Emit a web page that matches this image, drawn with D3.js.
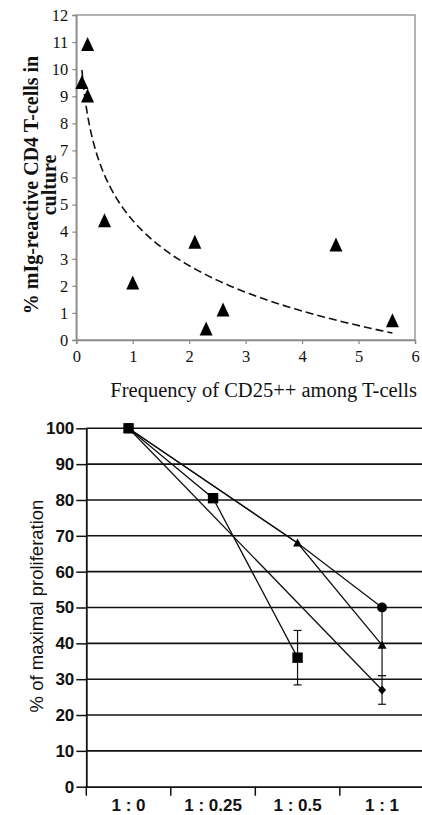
<!DOCTYPE html>
<html><head><meta charset="utf-8">
<script src="https://cdn.jsdelivr.net/npm/d3@7"></script>
<style>html,body{margin:0;padding:0;background:#fff}svg{display:block}</style>
</head><body>
<script>
// ---------- Top chart data ----------
const freqCD25 = [0.2, 0.1, 0.2, 0.5, 1.0, 2.1, 2.3, 2.6, 4.6, 5.6];
const pctReactive = [10.9, 9.5, 9.0, 4.4, 2.1, 3.6, 0.4, 1.1, 3.5, 0.7];
const topXTicks = [0, 1, 2, 3, 4, 5, 6];
const topYTicks = [0,1,2,3,4,5,6,7,8,9,10,11,12];

// ---------- Bottom chart data ----------
const ratios = ["1 : 0", "1 : 0.25", "1 : 0.5", "1 : 1"];
const squareVals  = [100, 80.5, 36, null];
const squareErr   = [0, 0, 7.6, 0];
const triangleVals = [100, null, 68, 39.5];
const circleVals  = [100, null, 68, 50];
const circleErrLow = [0, 0, 0, 19];
const diamondVals = [100, null, null, 27];
const diamondErr  = [0, 0, 0, 4];
const circleHidden = [false, false, true, false];
const bottomYTicks = [0,10,20,30,40,50,60,70,80,90,100];

const W = 422, H = 815;
const svg = d3.select("body").append("svg").attr("width", W).attr("height", H);

// ================= TOP CHART =================
const serif = "'Liberation Serif','Times New Roman',serif";
const tx = d3.scaleLinear().domain([0, 6]).range([76.3, 415]);
const ty = d3.scaleLinear().domain([0, 12]).range([340, 15]);
const gTop = svg.append("g");

// frame
gTop.append("rect").attr("x", tx(0)).attr("y", ty(12))
  .attr("width", tx(6) - tx(0)).attr("height", ty(0) - ty(12))
  .attr("fill", "none").attr("stroke", "#9a9a9a").attr("stroke-width", 1.5);

const yAxT = gTop.append("g").attr("transform", `translate(${tx(0)},0)`)
  .call(d3.axisLeft(ty).tickValues(topYTicks).tickSize(4).tickPadding(4).tickFormat(d3.format("d")));
const xAxT = gTop.append("g").attr("transform", `translate(0,${ty(0)})`)
  .call(d3.axisBottom(tx).tickValues(topXTicks).tickSize(4).tickPadding(6).tickFormat(d3.format("d")));
[yAxT, xAxT].forEach(a => {
  a.select(".domain").attr("stroke", "#8a8a8a").attr("stroke-width", 1.5);
  a.selectAll(".tick line").attr("stroke", "#8a8a8a").attr("stroke-width", 1.2);
  a.selectAll("text").attr("font-family", serif).attr("font-size", 16.5).attr("fill", "#111");
});

// logarithmic least-squares trendline from the data
const lx = freqCD25.map(Math.log);
const mx = d3.mean(lx), my = d3.mean(pctReactive);
const b = d3.sum(lx.map((v, i) => (v - mx) * (pctReactive[i] - my))) / d3.sum(lx.map(v => (v - mx) ** 2));
const a = my - b * mx;
const xmin = d3.min(freqCD25), xmax = d3.max(freqCD25);
const trendX = d3.range(0, 101).map(i => xmin * Math.pow(xmax / xmin, i / 100));
gTop.append("path")
  .datum(trendX)
  .attr("d", d3.line().x(d => tx(d)).y(d => ty(a + b * Math.log(d))))
  .attr("fill", "none").attr("stroke", "#111").attr("stroke-width", 1.6)
  .attr("stroke-dasharray", "8,4");

// triangles
const triPath = (w, h) => `M0,${-h * 0.55}L${w / 2},${h * 0.45}L${-w / 2},${h * 0.45}Z`;
gTop.selectAll("path.tri").data(freqCD25).join("path").attr("class", "tri")
  .attr("d", triPath(13, 14))
  .attr("transform", (d, i) => `translate(${tx(d)},${ty(pctReactive[i])})`)
  .attr("fill", "#000");

// titles
const yt = gTop.append("text").attr("transform", `translate(38,185) rotate(-90)`)
  .attr("text-anchor", "middle").attr("font-family", serif).attr("font-weight", "bold")
  .attr("font-size", 20).attr("fill", "#111");
yt.append("tspan").attr("x", 0).attr("y", 0).text("% mIg-reactive CD4 T-cells in");
yt.append("tspan").attr("x", 0).attr("y", 18).text("culture");
gTop.append("text").attr("x", 417).attr("y", 397).attr("text-anchor", "end")
  .attr("font-family", serif).attr("font-size", 20.5).attr("fill", "#111")
  .text("Frequency of CD25++ among T-cells");

// ================= BOTTOM CHART =================
const sans = "'Liberation Sans',Arial,Helvetica,sans-serif";
const bx = d3.scaleBand().domain(ratios).range([86.3, 424.3]).padding(0);
const by = d3.scaleLinear().domain([0, 100]).range([786.7, 428.3]);
const cx = c => bx(c) + bx.bandwidth() / 2;
const gB = svg.append("g");

// gridlines
gB.selectAll("line.grid").data(bottomYTicks.filter(d => d > 0)).join("line")
  .attr("x1", 86.3).attr("x2", W).attr("y1", d => by(d)).attr("y2", d => by(d))
  .attr("stroke", "#111").attr("stroke-width", 1.6);

const yAxB = gB.append("g").attr("transform", `translate(86.3,0)`)
  .call(d3.axisLeft(by).tickValues(bottomYTicks).tickSize(10).tickPadding(2).tickSizeOuter(0));
const xAxB = gB.append("g").attr("transform", `translate(0,${by(0)})`)
  .call(d3.axisBottom(bx).tickSize(0).tickPadding(12).tickSizeOuter(0));
[yAxB, xAxB].forEach(ax => {
  ax.select(".domain").attr("stroke", "#111").attr("stroke-width", 1.8);
  ax.selectAll(".tick line").attr("stroke", "#111").attr("stroke-width", 1.5);
  ax.selectAll("text").attr("font-family", sans).attr("font-weight", "bold")
    .attr("font-size", 17).attr("fill", "#111");
});
// category boundary ticks
gB.selectAll("line.xt").data(ratios).join("line")
  .attr("x1", d => bx(d)).attr("x2", d => bx(d))
  .attr("y1", by(0)).attr("y2", by(0) + 9)
  .attr("stroke", "#111").attr("stroke-width", 1.5);

gB.append("text").attr("transform", `translate(43,606) rotate(-90)`)
  .attr("text-anchor", "middle").attr("font-family", sans).attr("font-size", 18.5)
  .attr("fill", "#111").text("% of maximal proliferation");

// series lines
const lineGen = d3.line().defined(d => d.v != null).x(d => cx(d.c)).y(d => by(d.v));
const toPts = vals => ratios.map((c, i) => ({ c, v: vals[i] })).filter(d => d.v != null);
[diamondVals, circleVals, triangleVals, squareVals].forEach(vals => {
  gB.append("path").datum(toPts(vals)).attr("d", lineGen)
    .attr("fill", "none").attr("stroke", "#111").attr("stroke-width", 1.3);
});

// error bars
function errBars(vals, lo, hi) {
  ratios.forEach((c, i) => {
    if (vals[i] == null) return;
    const l = lo[i], h = hi[i];
    if (!l && !h) return;
    const x = cx(c);
    gB.append("line").attr("x1", x).attr("x2", x)
      .attr("y1", by(vals[i] + h)).attr("y2", by(vals[i] - l))
      .attr("stroke", "#111").attr("stroke-width", 1.2);
    if (h) gB.append("line").attr("x1", x - 4).attr("x2", x + 4)
      .attr("y1", by(vals[i] + h)).attr("y2", by(vals[i] + h)).attr("stroke", "#111").attr("stroke-width", 1.2);
    if (l) gB.append("line").attr("x1", x - 4).attr("x2", x + 4)
      .attr("y1", by(vals[i] - l)).attr("y2", by(vals[i] - l)).attr("stroke", "#111").attr("stroke-width", 1.2);
  });
}
errBars(squareVals, squareErr, squareErr);
errBars(circleVals, circleErrLow, ratios.map(() => 0));
errBars(diamondVals, diamondErr, diamondErr);

// markers
const mk = (vals, draw, hidden) => ratios.forEach((c, i) => {
  if (vals[i] == null || (hidden && hidden[i])) return;
  draw(gB.append("g").attr("transform", `translate(${cx(c)},${by(vals[i])})`));
});
mk(diamondVals, g => g.append("path").attr("d", "M0,-4.5L4,0L0,4.5L-4,0Z").attr("fill", "#000"));
mk(circleVals, g => g.append("circle").attr("r", 5).attr("fill", "#000"), circleHidden);
mk(triangleVals, g => g.append("path").attr("d", triPath(9, 8)).attr("fill", "#000"));
mk(squareVals, g => g.append("rect").attr("x", -5.2).attr("y", -5.2).attr("width", 10.4).attr("height", 10.4).attr("fill", "#000"));
</script>
</body></html>
